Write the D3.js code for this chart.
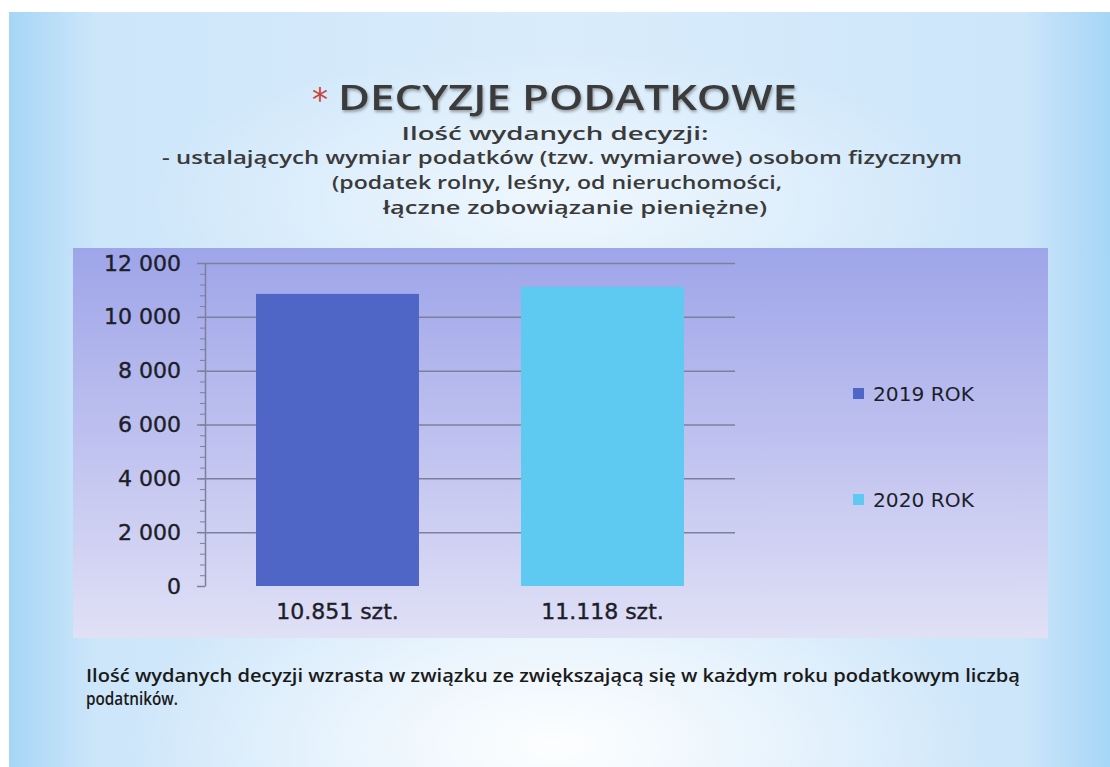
<!DOCTYPE html>
<html>
<head>
<meta charset="utf-8">
<script src="https://cdn.jsdelivr.net/npm/d3@7"></script>
<style>
  html, body { margin: 0; padding: 0; background: #fff; }
  svg { display: block; }
</style>
</head>
<body>
<svg id="chart"></svg>
<script>
// dane z wykresu
const categories = ["10.851 szt.", "11.118 szt."];
const seriesNames = ["2019 ROK", "2020 ROK"];
const values = [10851, 11118];
const yTicks = [0, 2000, 4000, 6000, 8000, 10000, 12000];
const barColors = ["#4f66c7", "#5ecaf1"];

const titleText = "DECYZJE PODATKOWE";
const subtitleLines = [
    "Ilość wydanych decyzji:",
    "- ustalających wymiar podatków (tzw. wymiarowe) osobom fizycznym",
    "(podatek rolny, leśny, od nieruchomości,",
    "łączne zobowiązanie pieniężne)"
];
const footerLines = [
    "Ilość wydanych decyzji wzrasta w związku ze zwiększającą się w każdym roku podatkowym liczbą",
    "podatników."
];

const W = 1110, H = 767;
const fontFamily = "'DejaVu Sans', Verdana, sans-serif";

let svg = d3.select("#chart").attr("width", W).attr("height", H);
let defs = svg.append("defs");

// tło slajdu
let bgH = defs.append("linearGradient").attr("id", "bgH").attr("x1", 0).attr("x2", 1).attr("y1", 0).attr("y2", 0);
bgH.append("stop").attr("offset", "0").attr("stop-color", "#a6d6f6");
bgH.append("stop").attr("offset", "0.08").attr("stop-color", "#cde6fa");
bgH.append("stop").attr("offset", "0.5").attr("stop-color", "#d9ecfb");
bgH.append("stop").attr("offset", "0.92").attr("stop-color", "#cde6fa");
bgH.append("stop").attr("offset", "1").attr("stop-color", "#a6d6f6");

let glow = defs.append("radialGradient").attr("id", "glow")
    .attr("cx", 0.5).attr("cy", 0.5).attr("r", 0.5);
glow.append("stop").attr("offset", "0").attr("stop-color", "#ffffff").attr("stop-opacity", 0.95);
glow.append("stop").attr("offset", "0.6").attr("stop-color", "#ffffff").attr("stop-opacity", 0.4);
glow.append("stop").attr("offset", "1").attr("stop-color", "#ffffff").attr("stop-opacity", 0);

let panelGrad = defs.append("linearGradient").attr("id", "panel").attr("x1", 0).attr("x2", 0).attr("y1", 0).attr("y2", 1);
panelGrad.append("stop").attr("offset", "0").attr("stop-color", "#9ea5e9");
panelGrad.append("stop").attr("offset", "0.5").attr("stop-color", "#bfc2ef");
panelGrad.append("stop").attr("offset", "1").attr("stop-color", "#e0e0f6");

let shadow = defs.append("filter").attr("id", "shadow").attr("x", "-10%").attr("y", "-30%").attr("width", "120%").attr("height", "160%");
shadow.append("feDropShadow").attr("dx", 1).attr("dy", 2).attr("stdDeviation", 1.5)
    .attr("flood-color", "#000").attr("flood-opacity", 0.35);

svg.append("rect").attr("x", 9).attr("y", 12).attr("width", W - 9).attr("height", H - 12).attr("fill", "url(#bgH)");
svg.append("ellipse").attr("cx", 555).attr("cy", 745).attr("rx", 430).attr("ry", 200).attr("fill", "url(#glow)");
svg.append("ellipse").attr("cx", 560).attr("cy", 200).attr("rx", 420).attr("ry", 150).attr("fill", "url(#glow)").attr("opacity", 0.6);

// tytuł
svg.append("text")
    .attr("x", 312).attr("y", 110)
    .attr("font-family", fontFamily).attr("font-size", 32)
    .attr("fill", "#c8443c")
    .text("*");
svg.append("text")
    .attr("x", 338).attr("y", 110)
    .attr("font-family", "'Open Sans', sans-serif").attr("font-size", 34).attr("font-weight", 600)
    .attr("fill", "#3b3b3b")
    .attr("textLength", 459).attr("lengthAdjust", "spacingAndGlyphs")
    .attr("filter", "url(#shadow)")
    .text(titleText);

const subLayout = [
    {cx: 555, y: 140, w: 307},
    {cx: 562, y: 164, w: 800},
    {cx: 557, y: 189, w: 450},
    {cx: 575, y: 214, w: 384}
];
svg.append("g").selectAll("text")
    .data(subtitleLines)
    .enter()
    .append("text")
    .attr("x", (d, i) => subLayout[i].cx - subLayout[i].w / 2)
    .attr("y", (d, i) => subLayout[i].y)
    .attr("textLength", (d, i) => subLayout[i].w)
    .attr("lengthAdjust", "spacingAndGlyphs")
    .attr("font-family", "'Open Sans', sans-serif").attr("font-size", 18).attr("font-weight", 600)
    .attr("fill", "#3a3a3a")
    .text(d => d);

// panel wykresu
svg.append("rect").attr("x", 73).attr("y", 248).attr("width", 975).attr("height", 390).attr("fill", "url(#panel)");

let yScale = d3.scaleLinear().domain([0, 12000]).range([586, 263]);
let xScale = d3.scaleBand().domain(categories).range([205, 735])
    .paddingInner(0.385).paddingOuter(0.1925);

let fmt = d3.formatLocale({decimal: ",", thousands: "\u00a0", grouping: [3], currency: ["", " zł"]}).format(",d");

// linie siatki
svg.append("g")
    .attr("transform", "translate(205,0)")
    .call(d3.axisLeft(yScale).tickValues(yTicks.filter(d => d > 0)).tickSize(-530).tickFormat(""))
    .call(g => g.select(".domain").remove())
    .call(g => g.selectAll("line").attr("stroke", "#7c809c").attr("stroke-width", 1.5));

// słupki
svg.append("g").selectAll("rect")
    .data(values)
    .enter()
    .append("rect")
    .attr("x", (d, i) => xScale(categories[i]))
    .attr("y", d => yScale(d))
    .attr("width", xScale.bandwidth())
    .attr("height", d => yScale(0) - yScale(d))
    .attr("fill", (d, i) => barColors[i]);

// oś Y - podziałka pomocnicza
svg.append("g")
    .attr("transform", "translate(205,0)")
    .call(d3.axisLeft(yScale).tickValues(d3.range(0, 12001, 400)).tickSize(5).tickFormat(""))
    .call(g => g.select(".domain").remove())
    .call(g => g.selectAll("line").attr("stroke", "#7c809c").attr("stroke-width", 1));

// oś Y
svg.append("g")
    .attr("transform", "translate(205,0)")
    .call(d3.axisLeft(yScale).tickValues(yTicks).tickSizeInner(8).tickSizeOuter(0).tickPadding(16).tickFormat(fmt))
    .call(g => g.select(".domain").attr("stroke", "#7c809c").attr("stroke-width", 1.5))
    .call(g => g.selectAll("line").attr("stroke", "#7c809c").attr("stroke-width", 1.5))
    .call(g => g.selectAll("text")
        .attr("font-family", fontFamily).attr("font-size", 22).attr("fill", "#1e1e2a")
        .attr("stroke", "#1e1e2a").attr("stroke-width", 0.4));

// etykiety kategorii
svg.append("g").selectAll("text")
    .data(categories)
    .enter()
    .append("text")
    .attr("x", d => xScale(d) + xScale.bandwidth() / 2)
    .attr("y", 619)
    .attr("text-anchor", "middle")
    .attr("font-family", fontFamily).attr("font-size", 22)
    .attr("fill", "#1e1e2a").attr("stroke", "#1e1e2a").attr("stroke-width", 0.4)
    .text(d => d);

// legenda
let legend = svg.append("g").selectAll("g")
    .data(seriesNames)
    .enter()
    .append("g")
    .attr("transform", (d, i) => `translate(853, ${394 + i * 106})`);
legend.append("rect")
    .attr("x", 0).attr("y", -6).attr("width", 11).attr("height", 11)
    .attr("fill", (d, i) => barColors[i]);
legend.append("text")
    .attr("x", 20).attr("y", 7)
    .attr("textLength", 101).attr("lengthAdjust", "spacingAndGlyphs")
    .attr("font-family", fontFamily).attr("font-size", 19)
    .attr("fill", "#1e1e2a")
    .text(d => d);

// opis pod wykresem
const footLayout = [{y: 682, w: 934}, {y: 705, w: 92}];
svg.append("g").selectAll("text")
    .data(footerLines)
    .enter()
    .append("text")
    .attr("x", 86)
    .attr("y", (d, i) => footLayout[i].y)
    .attr("textLength", (d, i) => footLayout[i].w)
    .attr("lengthAdjust", "spacingAndGlyphs")
    .attr("font-family", "'Open Sans', sans-serif").attr("font-size", 18).attr("font-weight", 600)
    .attr("fill", "#1a1a1a")
    .text(d => d);
</script>
</body>
</html>
